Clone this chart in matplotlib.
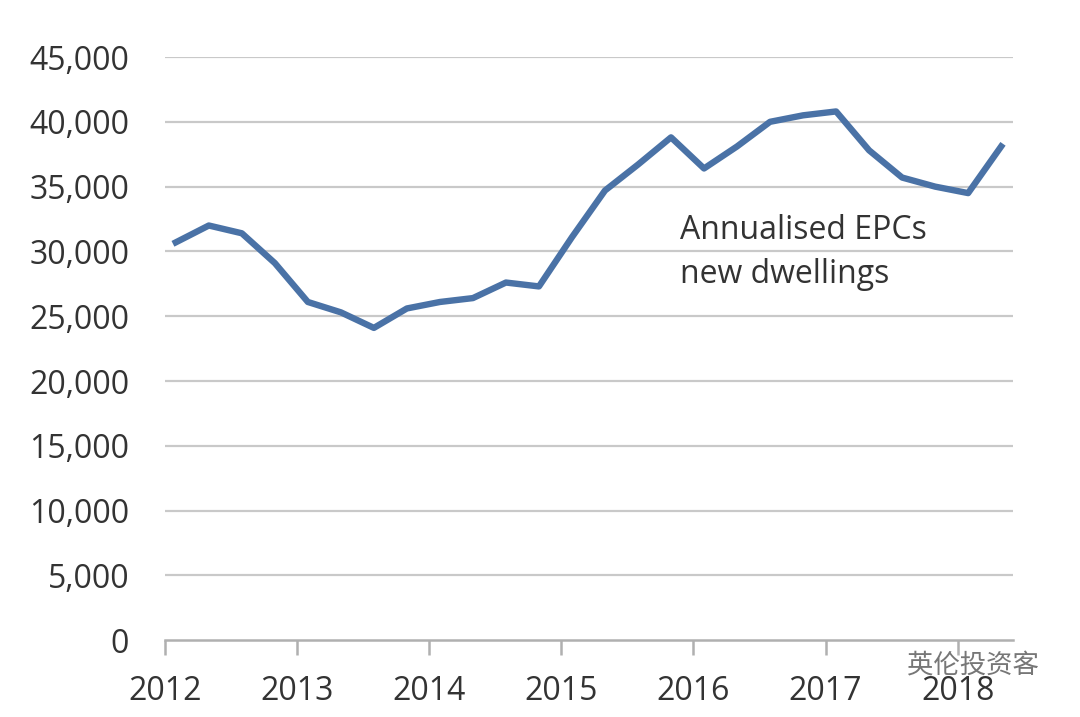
import numpy as np
import matplotlib.pyplot as plt

# quarterly annualised EPCs for new dwellings, Q1 2012 - Q2 2018
epcs = [30700, 32000, 31400, 29100, 26100, 25300, 24100, 25600, 26100, 26400,
        27600, 27300, 31100, 34700, 36700, 38800, 36400, 38100, 40000, 40500,
        40800, 37800, 35700, 35000, 34500, 38100]
years = [2012, 2013, 2014, 2015, 2016, 2017, 2018]
yticks = [0, 5000, 10000, 15000, 20000, 25000, 30000, 35000, 40000, 45000]

t = 2012.08 + np.arange(len(epcs)) * 0.25

plt.rcParams['font.family'] = ['Open Sans', 'DejaVu Sans']

fig = plt.figure(figsize=(10.8, 7.17), dpi=100)
ax = fig.add_axes([0.153, 0.107, 0.785, 0.8135])

for v in yticks[1:]:
    ax.axhline(v, color='#c9c9c9', lw=1.6, zorder=1)

ax.plot(t, epcs, color='#4a72a6', lw=4.6, solid_joinstyle='round', zorder=3)

ax.set_xlim(2012, 2018.42)
ax.set_ylim(0, 45000)
ax.set_yticks(yticks)
ax.set_yticklabels([f'{v:,}' for v in yticks])
ax.set_xticks(years)
ax.set_xticklabels([str(y) for y in years])

for s in ['top', 'right', 'left']:
    ax.spines[s].set_visible(False)
ax.spines['bottom'].set_color('#b0b0b0')
ax.spines['bottom'].set_linewidth(1.8)
ax.tick_params(axis='y', length=0, labelsize=23, labelcolor='#333333', pad=26)
ax.tick_params(axis='x', length=11, width=1.8, color='#b0b0b0',
               labelsize=23, labelcolor='#333333', pad=14)

ax.text(2015.9, 29900, 'Annualised EPCs\nnew dwellings', fontsize=23,
        color='#333333', linespacing=1.45, va='center', ha='left')

fig.text(0.84, 0.072, '英伦投资客', fontsize=19, color='#555555', alpha=0.8,
         family=['Noto Sans CJK SC', 'DejaVu Sans'], va='center')

fig.savefig('out.png', dpi=100)
